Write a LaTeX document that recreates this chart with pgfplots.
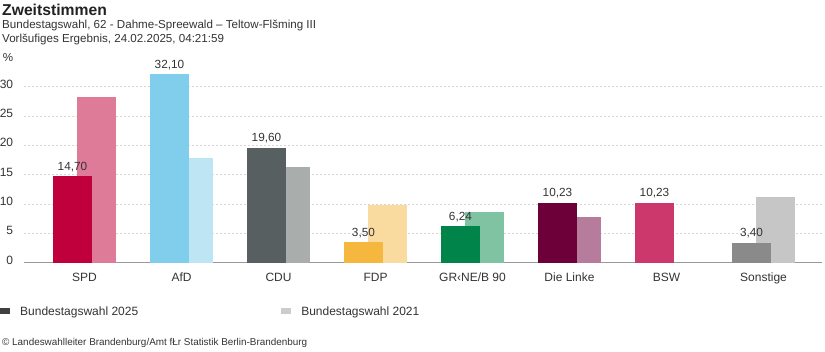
\documentclass[border=0pt]{standalone}
\usepackage{pgfplots}
\pgfplotsset{compat=1.18}
\usepackage{fontspec}
\setmainfont{Liberation Sans}
\definecolor{spdA}{HTML}{C0003C}\definecolor{spdB}{HTML}{DE7B99}
\definecolor{afdA}{HTML}{80CEEB}\definecolor{afdB}{HTML}{BEE5F4}
\definecolor{cduA}{HTML}{575F61}\definecolor{cduB}{HTML}{A9AEAD}
\definecolor{fdpA}{HTML}{F5B73D}\definecolor{fdpB}{HTML}{FADB9F}
\definecolor{gruA}{HTML}{00844A}\definecolor{gruB}{HTML}{80C3A3}
\definecolor{linA}{HTML}{6E0039}\definecolor{linB}{HTML}{B67C9B}
\definecolor{bswA}{HTML}{CC386C}
\definecolor{sonA}{HTML}{8A8A8A}\definecolor{sonB}{HTML}{C6C6C6}
\definecolor{txt}{HTML}{333333}
\definecolor{ttl}{HTML}{222222}
\begin{document}
\begin{tikzpicture}
\path[use as bounding box] (-24pt,-89.3pt) rectangle (801pt,262.7pt);
\node[anchor=base west, inner sep=0pt, text=ttl, font=\fontsize{15.7}{18}\selectfont\bfseries] at (-22pt,246.9pt) {Zweitstimmen};
\node[anchor=base west, inner sep=0pt, text=txt, font=\fontsize{11.6}{13}\selectfont] at (-22pt,234.4pt) {Bundestagswahl, 62 - Dahme-Spreewald – Teltow-Flšming III};
\node[anchor=base west, inner sep=0pt, text=txt, font=\fontsize{11.6}{13}\selectfont] at (-22pt,220.0pt) {Vorlšufiges Ergebnis, 24.02.2025, 04:21:59};
\node[anchor=base east, inner sep=0pt, text=txt, font=\fontsize{11.6}{13}\selectfont] at (-10.7pt,201.2pt) {\%};
\node[anchor=base west, inner sep=0pt, text=txt, font=\fontsize{9.9}{11}\selectfont] at (-22pt,-82.8pt) {© Landeswahlleiter Brandenburg/Amt fŁr Statistik Berlin-Brandenburg};
\begin{axis}[
  at={(0pt,0pt)}, anchor=south west, scale only axis,
  width=798pt, height=205.45pt,
  xmin=-0.6237, xmax=7.603, ymin=0, ymax=35,
  axis x line*=bottom, axis y line*=left,
  y axis line style={draw=none},
  x axis line style={draw=gray!80, line width=0.8pt},
  major tick length=0pt,
  ytick={0,5,...,30},
  xtick={0,...,7},
  xticklabels={SPD,AfD,CDU,FDP,GR‹NE/B 90,Die Linke,BSW,Sonstige},
  /pgf/number format/assume math mode=true,
  ymajorgrids,
  grid style={draw=black!16, line width=0.6pt, dash pattern=on 2pt off 2pt},
  tick label style={font=\fontsize{12}{14}\selectfont, text=txt},
  yticklabel style={anchor=base east, inner sep=0pt, xshift=-10.7pt, yshift=-1.5pt},
  xticklabel style={anchor=north, inner sep=0pt, yshift=-10.3pt},
  ybar, bar width=0.402, bar shift=0pt,
  every axis plot/.append style={draw=none},
  nodes near coords style={anchor=base, inner sep=0pt, yshift=6pt, font=\fontsize{11.8}{13}\selectfont, text=txt},
  point meta=y,
  legend columns=2,
  legend style={at={(axis description cs:-0.0301,-0.2375)}, anchor=west, draw=none, fill=none, inner sep=0pt,
    nodes={inner sep=0pt, font=\fontsize{12}{14}\selectfont, text=txt},
    /tikz/every odd column/.append style={column sep=10pt},
    /tikz/every even column/.append style={column sep=143pt}},
  legend cell align=left,
  v/.style={fill=#1, nodes near coords={\pgfmathprintnumber[fixed,fixed zerofill,precision=2,use comma]{\pgfplotspointmeta}}},
]
\addlegendimage{legend image code/.code={\fill[black!75] (0pt,-3pt) rectangle (10pt,3.5pt);}}
\addlegendentry{Bundestagswahl 2025}
\addlegendimage{legend image code/.code={\fill[black!20] (0pt,-3pt) rectangle (10pt,3.5pt);}}
\addlegendentry{Bundestagswahl 2021}
% 2021 (behind)
\addplot[fill=spdB, forget plot] coordinates {(0.124,28.3)};
\addplot[fill=afdB, forget plot] coordinates {(1.124,17.9)};
\addplot[fill=cduB, forget plot] coordinates {(2.124,16.35)};
\addplot[fill=fdpB, forget plot] coordinates {(3.124,9.83)};
\addplot[fill=gruB, forget plot] coordinates {(4.124,8.69)};
\addplot[fill=linB, forget plot] coordinates {(5.124,7.78)};
\addplot[fill=sonB, forget plot] coordinates {(7.124,11.24)};
% 2025
\addplot[v=spdA, forget plot] coordinates {(-0.124,14.70)};
\addplot[v=afdA, forget plot] coordinates {(0.876,32.10)};
\addplot[v=cduA, forget plot] coordinates {(1.876,19.60)};
\addplot[v=fdpA, forget plot] coordinates {(2.876,3.50)};
\addplot[v=gruA, forget plot] coordinates {(3.876,6.24)};
\addplot[v=linA, forget plot] coordinates {(4.876,10.23)};
\addplot[v=bswA, forget plot] coordinates {(5.876,10.23)};
\addplot[v=sonA, forget plot] coordinates {(6.876,3.40)};
\end{axis}
\end{tikzpicture}
\end{document}
